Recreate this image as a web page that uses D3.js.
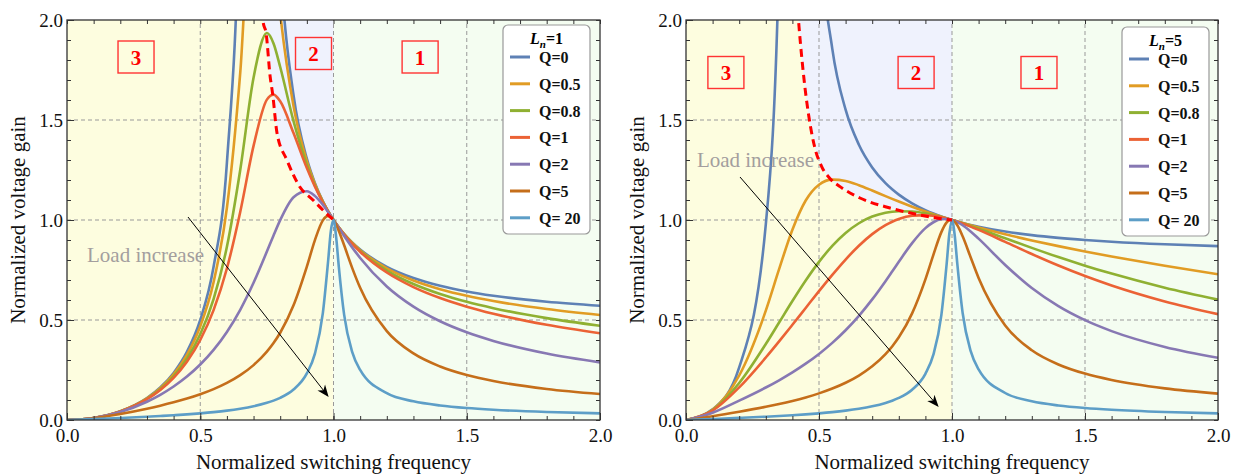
<!DOCTYPE html>
<html>
<head>
<meta charset="utf-8">
<script src="https://cdn.jsdelivr.net/npm/d3@7"></script>
<style>
  body { margin: 0; background: #fff; }
  text { font-family: 'Liberation Serif', 'Times New Roman', serif; }
</style>
</head>
<body>
<script>
// normalized switching frequency (shared sample points)
const fn = [0, 0.1, 0.2, 0.3, 0.35, 0.4, 0.45, 0.5, 0.55, 0.6, 0.65, 0.7, 0.75, 0.775, 0.8, 0.85, 0.9, 0.93,
  0.96, 0.98, 0.99, 1.0, 1.01, 1.02, 1.04, 1.07, 1.1, 1.2, 1.3, 1.4, 1.5, 1.6, 1.8, 2.0];

const qLabels = ['Q=0', 'Q=0.5', 'Q=0.8', 'Q=1', 'Q=2', 'Q=5', 'Q= 20'];
const qColors = ['#5e81b5', '#e19c24', '#8fb032', '#eb6235', '#8778b3', '#c56e1a', '#5d9ec7'];

// Ln = 1
const ln1Q0 = [0, 0.0102, 0.0435, 0.1098, 0.1623, 0.2353, 0.3403, 0.5, 0.7658, 1.2857, 2.7258, 24.5, 4.5, 2.9845, 2.2857,
  1.6236, 1.3065, 1.1851, 1.0930, 1.0430, 1.0207, 1, 0.9807, 0.9626, 0.9298, 0.8877, 0.8521, 0.7660, 0.7101, 0.6712,
  0.6429, 0.6214, 0.5912, 0.5714];
const ln1Q05 = [0, 0.0102, 0.0432, 0.1083, 0.1590, 0.2284, 0.3258, 0.4682, 0.6889, 1.0604, 1.7357, 2.7280, 2.7272, 2.3658,
  2.0327, 1.5694, 1.2942, 1.1808, 1.0919, 1.0428, 1.0207, 1, 0.9807, 0.9624, 0.9292, 0.8861, 0.8493, 0.7585, 0.6978,
  0.6541, 0.6210, 0.5947, 0.5549, 0.5252];
const ln1Q08 = [0, 0.0102, 0.0429, 0.1061, 0.1543, 0.2188, 0.3065, 0.4287, 0.6047, 0.8661, 1.2502, 1.7115, 1.9347, 1.8824,
  1.7650, 1.4947, 1.2758, 1.1740, 1.0902, 1.0424, 1.0206, 1, 0.9806, 0.9622, 0.9283, 0.8836, 0.8450, 0.7473, 0.6799,
  0.6299, 0.5909, 0.5592, 0.5095, 0.4713];
const ln1Q1 = [0, 0.0102, 0.0426, 0.1041, 0.1503, 0.2109, 0.2914, 0.4, 0.5494, 0.7575, 1.0403, 1.3704, 1.6020, 1.6269,
  1.5933, 1.4345, 1.2594, 1.1679, 1.0887, 1.0421, 1.0205, 1, 0.9805, 0.9619, 0.9274, 0.8813, 0.8411, 0.7374, 0.6645,
  0.6097, 0.5667, 0.5314, 0.4762, 0.4339];
const ln1Q2 = [0, 0.0100, 0.0401, 0.0914, 0.1259, 0.1674, 0.2172, 0.2774, 0.3505, 0.4404, 0.5511, 0.6860, 0.8420, 0.9227,
  0.9993, 1.1141, 1.1440, 1.1206, 1.0760, 1.0393, 1.0199, 1, 0.9799, 0.9598, 0.9201, 0.8631, 0.8103, 0.6678, 0.5670,
  0.4938, 0.4386, 0.3955, 0.3323, 0.2879];
const ln1Q5 = [0, 0.0091, 0.0301, 0.0565, 0.0716, 0.0883, 0.1071, 0.1288, 0.1545, 0.1855, 0.2243, 0.2745, 0.3419, 0.3849,
  0.4363, 0.5732, 0.7669, 0.8982, 0.9981, 1.0206, 1.0154, 1, 0.9760, 0.9456, 0.8735, 0.7608, 0.6611, 0.4443, 0.3328,
  0.2675, 0.2248, 0.1948, 0.1551, 0.1298];
const ln1Q20 = [0, 0.0045, 0.0101, 0.0163, 0.0198, 0.0237, 0.0281, 0.0333, 0.0394, 0.0468, 0.0563, 0.0686, 0.0857, 0.0970,
  0.1110, 0.1525, 0.2330, 0.3305, 0.5341, 0.7975, 0.9443, 1, 0.9135, 0.7655, 0.5257, 0.3409, 0.2503, 0.1343, 0.0934,
  0.0725, 0.0597, 0.0511, 0.0401, 0.0333];
const ln1PeakFn = [0.732, 0.736, 0.747, 0.762, 0.772, 0.788, 0.825, 0.874, 0.923, 0.96, 1.0];
const ln1PeakGain = [2.05, 1.99, 1.935, 1.72, 1.627, 1.435, 1.30, 1.165, 1.10, 1.05, 1.0];

// Ln = 5
const ln5Q0 = [0, 0.0532, 0.263, 0.978, 2.311, 20, 4.709, 2.5, 1.8558, 1.5517, 1.3762, 1.2629, 1.1842, 1.1534, 1.1268,
  1.0832, 1.0492, 1.0322, 1.0173, 1.0083, 1.0041, 1, 0.9961, 0.9923, 0.9851, 0.9753, 0.9665, 0.9424, 0.9245, 0.9108,
  0.9, 0.8914, 0.8785, 0.8696];
const ln5Q05 = [0, 0.0514, 0.2225, 0.5467, 0.7541, 0.9513, 1.0975, 1.1765, 1.2018, 1.1954, 1.1742, 1.1473, 1.1193, 1.1056,
  1.0922, 1.0667, 1.0428, 1.0294, 1.0164, 1.0081, 1.0040, 1, 0.9960, 0.9921, 0.9844, 0.9732, 0.9624, 0.9287, 0.8979,
  0.8694, 0.8427, 0.8175, 0.7709, 0.7284];
const ln5Q08 = [0, 0.0490, 0.1851, 0.3798, 0.4874, 0.5950, 0.6975, 0.7906, 0.8705, 0.9352, 0.9838, 1.0171, 1.0365, 1.0416,
  1.0441, 1.0423, 1.0331, 1.0249, 1.0151, 1.0078, 1.0039, 1, 0.9960, 0.9918, 0.9832, 0.9699, 0.9561, 0.9083, 0.8606,
  0.8147, 0.7717, 0.7319, 0.6613, 0.6017];
const ln5Q1 = [0, 0.0471, 0.1633, 0.3124, 0.3930, 0.4761, 0.5603, 0.6442, 0.7257, 0.8024, 0.8713, 0.9294, 0.9743, 0.9915,
  1.0050, 1.0212, 1.0244, 1.0208, 1.0138, 1.0075, 1.0039, 1, 0.9959, 0.9915, 0.9822, 0.9669, 0.9504, 0.8907, 0.8300,
  0.7725, 0.72, 0.6728, 0.5929, 0.5291];
const ln5Q2 = [0, 0.0366, 0.0969, 0.1625, 0.1987, 0.2381, 0.2816, 0.3304, 0.3857, 0.4487, 0.5209, 0.6030, 0.6943, 0.7425,
  0.7912, 0.8844, 0.9593, 0.9887, 1.0035, 1.0050, 1.0033, 1, 0.9953, 0.9892, 0.9736, 0.9430, 0.9067, 0.7753, 0.6598,
  0.5692, 0.4992, 0.4445, 0.3654, 0.3113];
const ln5Q5 = [0, 0.0189, 0.0412, 0.0658, 0.0797, 0.0952, 0.1128, 0.1331, 0.1571, 0.1861, 0.2222, 0.2682, 0.3293, 0.3678,
  0.4134, 0.5332, 0.7031, 0.8259, 0.9395, 0.9880, 0.9990, 1, 0.9912, 0.9737, 0.9189, 0.8139, 0.7103, 0.4721, 0.3489,
  0.2778, 0.2319, 0.1999, 0.1581, 0.1318];
const ln5Q20 = [0, 0.0050, 0.0104, 0.0165, 0.0199, 0.0238, 0.0282, 0.0333, 0.0394, 0.0469, 0.0562, 0.0685, 0.0855, 0.0967,
  0.1106, 0.1516, 0.2310, 0.3265, 0.5246, 0.7817, 0.9311, 1, 0.9260, 0.7801, 0.5351, 0.3453, 0.2528, 0.1350, 0.0937,
  0.0727, 0.0599, 0.0512, 0.0401, 0.0333];
const ln5PeakFn = [0.42, 0.425, 0.444, 0.466, 0.485, 0.51, 0.541, 0.579, 0.654, 0.767, 0.88, 0.98, 1.0];
const ln5PeakGain = [2.05, 1.965, 1.7, 1.483, 1.358, 1.267, 1.208, 1.167, 1.11, 1.06, 1.025, 1.003, 1.0];

const majorTicks = [0, 0.5, 1, 1.5, 2];
const minorTicks = d3.range(21).map((i) => i / 10);
const zoneNames = ['3', '2', '1'];

const serif = "'Liberation Serif', 'Times New Roman', serif";
const width = 1243;
const height = 475;

const svg = d3.select('body').append('svg')
  .attr('width', width)
  .attr('height', height);

const defs = svg.append('defs');
defs.append('marker')
  .attr('id', 'arrowhead')
  .attr('viewBox', '0 0 10 10')
  .attr('refX', 9).attr('refY', 5)
  .attr('markerWidth', 12).attr('markerHeight', 12)
  .attr('markerUnits', 'userSpaceOnUse')
  .attr('orient', 'auto')
  .append('path')
  .attr('d', 'M0,1 L10,5 L0,9 L3,5 Z')
  .attr('fill', '#000');

const panels = [
  {
    ln: 1, left: 67, right: 600, legendX: 503, legendY: 25,
    series: [ln1Q0, ln1Q05, ln1Q08, ln1Q1, ln1Q2, ln1Q5, ln1Q20],
    peakFn: ln1PeakFn, peakGain: ln1PeakGain,
    zones: [[0.259, 1.815], [0.925, 1.8325], [1.325, 1.815]],
    note: [0.075, 0.79], arrow: [[0.454, 1.015], [0.979, 0.12]],
  },
  {
    ln: 5, left: 686, right: 1218, legendX: 1122, legendY: 27,
    series: [ln5Q0, ln5Q05, ln5Q08, ln5Q1, ln5Q2, ln5Q5, ln5Q20],
    peakFn: ln5PeakFn, peakGain: ln5PeakGain,
    zones: [[0.150, 1.7375], [0.865, 1.7375], [1.327, 1.7375]],
    note: [0.041, 1.265], arrow: [[0.203, 1.215], [0.947, 0.07]],
  },
];

function drawPanel(p) {
  const x = d3.scaleLinear().domain([0, 2]).range([p.left, p.right]);
  const y = d3.scaleLinear().domain([0, 2]).range([420, 20]);
  const g = svg.append('g');
  const clipId = `clip-ln${p.ln}`;

  defs.append('clipPath').attr('id', clipId)
    .append('rect')
    .attr('x', x(0)).attr('y', y(2))
    .attr('width', x(2) - x(0)).attr('height', y(0) - y(2));

  const plot = g.append('g').attr('clip-path', `url(#${clipId})`);

  // operating regions
  plot.append('rect')
    .attr('x', x(0)).attr('y', y(2))
    .attr('width', x(1) - x(0)).attr('height', y(0) - y(2))
    .attr('fill', '#fdfddf');
  plot.append('rect')
    .attr('x', x(1)).attr('y', y(2))
    .attr('width', x(2) - x(1)).attr('height', y(0) - y(2))
    .attr('fill', '#f4fdf1');

  const peak = p.peakFn.map((f, i) => [f, p.peakGain[i]]);
  plot.append('path')
    .datum(peak)
    .attr('d', d3.area()
      .x((d) => x(d[0]))
      .y0((d) => y(d[1]))
      .y1(y(2.3))
      .curve(d3.curveMonotoneX))
    .attr('fill', '#eff2fd');

  // grid
  plot.selectAll('line.vgrid')
    .data([0.5, 1, 1.5])
    .enter()
    .append('line')
    .attr('x1', (d) => x(d)).attr('x2', (d) => x(d))
    .attr('y1', y(0)).attr('y2', y(2))
    .style('stroke', '#999')
    .style('stroke-dasharray', '4,3');
  plot.selectAll('line.hgrid')
    .data([0.5, 1, 1.5])
    .enter()
    .append('line')
    .attr('y1', (d) => y(d)).attr('y2', (d) => y(d))
    .attr('x1', x(0)).attr('x2', x(2))
    .style('stroke', '#999')
    .style('stroke-dasharray', '4,3');

  // gain curves
  const line = d3.line()
    .x((d, i) => x(fn[i]))
    .y((d) => y(d))
    .curve(d3.curveMonotoneX);

  plot.selectAll('path.curve')
    .data(p.series)
    .enter()
    .append('path')
    .attr('d', line)
    .attr('fill', 'none')
    .attr('stroke', (d, i) => qColors[i])
    .attr('stroke-width', 2.6);

  // boundary between region 2 and region 3
  plot.append('path')
    .datum(peak)
    .attr('d', d3.line().x((d) => x(d[0])).y((d) => y(d[1])).curve(d3.curveMonotoneX))
    .attr('fill', 'none')
    .attr('stroke', '#ff0000')
    .attr('stroke-width', 3)
    .attr('stroke-dasharray', '8,5');

  // region labels
  const zone = g.selectAll('g.zone')
    .data(p.zones)
    .enter()
    .append('g')
    .attr('transform', (d) => `translate(${x(d[0])},${y(d[1])})`);
  zone.append('rect')
    .attr('x', -18).attr('y', -16)
    .attr('width', 36).attr('height', 32)
    .attr('fill', 'none')
    .attr('stroke', '#f33')
    .attr('stroke-width', 1.4);
  zone.append('text')
    .attr('text-anchor', 'middle')
    .attr('y', 7.5)
    .attr('fill', '#ff0000')
    .attr('font-weight', 'bold')
    .attr('font-size', 21)
    .text((d, i) => zoneNames[i]);

  // load increase annotation
  g.append('text')
    .attr('x', x(p.note[0])).attr('y', y(p.note[1]))
    .attr('fill', '#a39e9e')
    .attr('font-size', 21)
    .text('Load increase');
  g.append('line')
    .attr('x1', x(p.arrow[0][0])).attr('y1', y(p.arrow[0][1]))
    .attr('x2', x(p.arrow[1][0])).attr('y2', y(p.arrow[1][1]))
    .attr('stroke', '#000')
    .attr('stroke-width', 1)
    .attr('marker-end', 'url(#arrowhead)');

  // axes with inward ticks on all four sides
  const fmt = d3.format('.1f');
  const styleAxis = (a) => {
    a.select('.domain').remove();
    a.selectAll('line').attr('stroke', '#333');
    a.attr('font-family', serif).attr('font-size', 19);
    a.selectAll('text').attr('fill', '#111');
  };
  g.append('g').attr('transform', `translate(0,${y(0)})`)
    .call(d3.axisBottom(x).tickValues(majorTicks).tickSize(-7).tickPadding(9).tickFormat(fmt))
    .call(styleAxis);
  g.append('g').attr('transform', `translate(0,${y(0)})`)
    .call(d3.axisBottom(x).tickValues(minorTicks).tickSize(-4).tickFormat(''))
    .call(styleAxis);
  g.append('g').attr('transform', `translate(0,${y(2)})`)
    .call(d3.axisTop(x).tickValues(minorTicks).tickSize(-4).tickFormat(''))
    .call(styleAxis);
  g.append('g').attr('transform', `translate(${x(0)},0)`)
    .call(d3.axisLeft(y).tickValues(majorTicks).tickSize(-7).tickPadding(4).tickFormat(fmt))
    .call(styleAxis);
  g.append('g').attr('transform', `translate(${x(0)},0)`)
    .call(d3.axisLeft(y).tickValues(minorTicks).tickSize(-4).tickFormat(''))
    .call(styleAxis);
  g.append('g').attr('transform', `translate(${x(2)},0)`)
    .call(d3.axisRight(y).tickValues(minorTicks).tickSize(-4).tickFormat(''))
    .call(styleAxis);

  g.append('rect')
    .attr('x', x(0)).attr('y', y(2))
    .attr('width', x(2) - x(0)).attr('height', y(0) - y(2))
    .attr('fill', 'none')
    .attr('stroke', '#333')
    .attr('stroke-width', 1.3);

  g.append('text')
    .attr('x', (x(0) + x(2)) / 2).attr('y', 469)
    .attr('text-anchor', 'middle')
    .attr('font-size', 21)
    .attr('fill', '#111')
    .text('Normalized switching frequency');
  g.append('text')
    .attr('transform', `translate(${x(0) - 42},${(y(0) + y(2)) / 2}) rotate(-90)`)
    .attr('text-anchor', 'middle')
    .attr('font-size', 21)
    .attr('fill', '#111')
    .text('Normalized voltage gain');

  // legend
  const lg = g.append('g').attr('transform', `translate(${p.legendX},${p.legendY})`);
  lg.append('rect')
    .attr('width', 87).attr('height', 209)
    .attr('rx', 5)
    .attr('fill', '#fff')
    .attr('stroke', '#999')
    .attr('stroke-width', 1.2);
  const title = lg.append('text')
    .attr('x', 43.5).attr('y', 19)
    .attr('text-anchor', 'middle')
    .attr('font-size', 16)
    .attr('font-weight', 'bold');
  title.append('tspan').attr('font-style', 'italic').text('L');
  title.append('tspan').attr('font-style', 'italic').attr('font-size', 11).attr('dy', 4).text('n');
  title.append('tspan').attr('dy', -4).text(`=${p.ln}`);

  const row = lg.selectAll('g.row')
    .data(qLabels)
    .enter()
    .append('g')
    .attr('transform', (d, i) => `translate(0,${32 + i * 26.8})`);
  row.append('line')
    .attr('x1', 7).attr('x2', 27)
    .attr('stroke', (d, i) => qColors[i])
    .attr('stroke-width', 3);
  row.append('text')
    .attr('x', 36).attr('y', 6)
    .attr('font-size', 16)
    .attr('font-weight', 'bold')
    .attr('fill', '#111')
    .text((d) => d);
}

panels.forEach(drawPanel);
</script>
</body>
</html>
